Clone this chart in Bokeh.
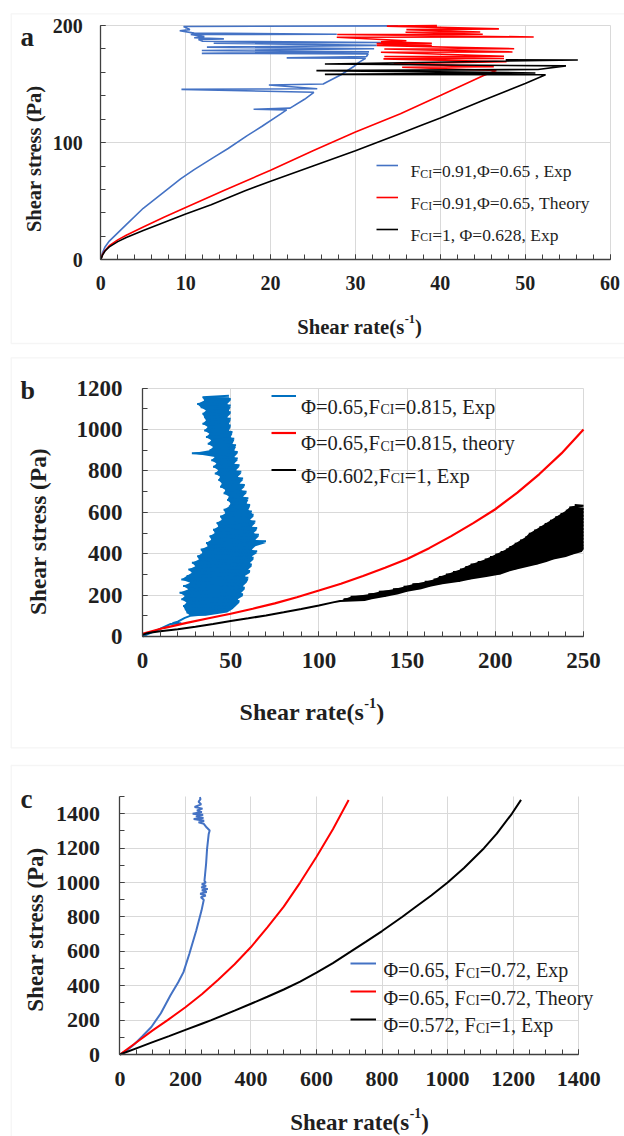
from bokeh.plotting import figure
from bokeh.models import (Range1d, SingleIntervalTicker, Label, Legend, LegendItem,
                          LinearAxis, Grid, BoxAnnotation)
from bokeh.core.properties import value
from bokeh.embed import file_html
from bokeh.resources import INLINE
import math

# ---------------------------------------------------------------- data
# Panel a  (shear rate s^-1, shear stress Pa)
a_blue_rate = [0, 0.2, 0.5, 1, 2, 3, 5, 7.8, 9.4, 11,
               13.3, 15, 17.25, 19, 21.2, 21.9, 18.0, 22.3, 24.0, 25.1,
               9.5, 25.5, 19.8, 26.2, 26.7, 28.3, 29.8, 30.5, 31.2, 21.9,
               31.3, 31.5, 11.9, 31.6, 11.9, 32.2, 12.5, 32.5, 13.3, 33.0,
               12.0, 11.5, 14.5, 11.0, 12.2, 10.6, 27.8, 11.0, 9.3, 10.5,
               9.75, 35.0]
a_blue_stress = [0, 6, 11, 16, 23, 30, 44, 60, 69.1, 77,
                 87.4, 95, 106, 114, 124.6, 128, 128.5, 129.5, 137, 143,
                 145.5, 146, 149.2, 150, 152, 158, 165, 169, 172, 172.4,
                 173.5, 175.8, 176.2, 177.5, 178.6, 180.2, 181.5, 183, 184.9, 185.5,
                 186.5, 188, 188.6, 189.5, 190.5, 192.3, 192.5, 193.5, 195.5, 196.5,
                 199.2, 199.7]
a_red_rate = [0, 0.2, 0.5, 1, 2, 3, 5, 7.5, 10, 14.5,
              20, 25, 30, 35.3, 40, 45.1, 46.6, 35.5, 46.3, 34.5,
              47.8, 33.3, 47.5, 33.4, 47.5, 33.0, 48.5, 33.4, 48.7, 32.5,
              39.0, 32.5, 39.0, 33.0, 36.0, 27.8, 51.0, 27.85, 45.0, 35.9,
              44.7, 36.0, 46.9, 33.7, 39.6]
a_red_stress = [0, 4.5, 8, 12, 17, 21, 28, 36.5, 44.7, 59.1,
                76.5, 93, 109, 124.6, 140.2, 157.3, 161.6, 164.4, 164.8, 167.3,
                169, 171.5, 171.8, 173.5, 173.8, 177.2, 177.4, 180, 180.2, 182.9,
                183, 184.5, 184.8, 186, 187, 190, 190.2, 192.3, 192.5, 194.2,
                194.4, 196.5, 197.1, 199.5, 199.9]
a_black_rate = [0, 0.2, 0.5, 1, 2, 3, 5, 7.5, 10, 13,
                17, 20, 25, 30, 35, 37.7, 40, 45, 50, 52.4,
                26.4, 51.2, 25.4, 51.5, 54.8, 26.4, 56.2, 47.7]
a_black_stress = [0, 4, 7.5, 11, 15.5, 19, 25, 32, 39, 47,
                  59, 67, 80, 93, 107, 114.6, 121, 136, 150.5, 157.9,
                  158.3, 159.5, 161.5, 162.5, 165.5, 167.2, 170.6, 170.8]

# Panel b  (from index 8 the blue points alternate left edge / right edge)
b_blue_stress = [0, 12, 30, 61, 64, 64, 72, 90,
                 100, 108, 116, 124, 132, 140, 148, 156, 164, 172,
                 180, 188, 196, 204, 212, 220, 228, 236, 244, 252,
                 260, 268, 276, 284, 292, 300, 308, 316, 324, 332,
                 340, 348, 356, 364, 372, 380, 388, 396, 404, 412,
                 420, 428, 436, 444, 452, 460, 468, 476, 484, 492,
                 500, 508, 516, 524, 532, 540, 548, 556, 564, 572,
                 580, 588, 596, 604, 612, 620, 628, 636, 644, 652,
                 660, 668, 676, 684, 692, 700, 708, 716, 724, 732,
                 740, 748, 756, 764, 772, 780, 788, 796, 804, 812,
                 820, 828, 836, 844, 852, 860, 868, 876, 886,
                 892, 900, 908, 916, 924, 932, 940, 948, 956, 964,
                 972, 980, 988, 996, 1004, 1012, 1020, 1028, 1036, 1044,
                 1052, 1060, 1068, 1076, 1084, 1092, 1100, 1108, 1116, 1124,
                 1132, 1140, 1148, 1156, 1164]
b_blue_rate = [0, 3, 8, 16, 22, 17, 20, 24,
               27, 36, 25, 48, 24, 51, 23, 53, 25, 55,
               22, 54, 24, 57, 21, 56, 26, 58, 23, 57,
               27, 59, 22, 60, 25, 58, 28, 61, 26, 60,
               30, 62, 28, 61, 32, 63, 31, 62, 34, 65,
               33, 62, 37, 64, 36, 70, 39, 64, 38, 66,
               41, 63, 40, 65, 43, 62, 42, 64, 45, 61,
               44, 63, 47, 62, 46, 60, 49, 61, 50, 59,
               48, 60, 49, 57, 46, 59, 47, 56, 44, 58,
               45, 55, 43, 57, 44, 54, 41, 56, 43, 53,
               40, 55, 42, 52, 39, 54, 41, 52, 28,
               54, 38, 52, 40, 53, 37, 51, 39, 52, 36,
               50, 38, 51, 35, 49, 37, 50, 34, 49, 36,
               50, 35, 48, 34, 50, 36, 49, 33, 50, 31,
               48, 35, 50, 34, 49]
b_red_rate = [0, 12.5, 25, 37.5, 50, 62.5, 75, 87.5, 100, 112.5, 125,
              137.5, 150, 162.5, 175, 187.5, 200, 212.5, 225, 237.5, 250]
b_red_stress = [13, 42, 66, 88, 110, 134, 160, 190, 222, 255, 292,
                332, 375, 427, 485, 548, 615, 695, 785, 885, 1000]
# from index 14 the black points alternate left edge / right edge
b_black_stress = [8, 14, 19, 25, 35, 47, 60, 75, 88, 102, 117, 133, 150, 165,
                  172, 176, 180, 186, 192, 198, 204, 210, 216, 222,
                  228, 234, 240, 246, 252, 258, 264, 270, 276, 282,
                  288, 294, 300, 306, 312, 318, 324, 330, 336, 342,
                  348, 354, 360, 366, 372, 378, 384, 390, 396, 402,
                  408, 414, 420, 426, 432, 440, 448, 456, 464, 472,
                  480, 488, 496, 504, 512, 520, 528, 536, 544, 552,
                  560, 568, 576, 584, 592, 600, 608, 616, 624, 632, 636]
b_black_rate = [0, 2, 5, 10, 20, 30, 40, 50, 60, 70, 80, 90, 100, 108,
                112, 126, 114, 130, 118, 138, 128, 145, 134, 150,
                142, 158, 148, 163, 153, 170, 160, 180, 165, 186,
                168, 195, 172, 203, 176, 207, 180, 212, 183, 218,
                186, 224, 190, 229, 194, 233, 197, 240, 200, 244,
                203, 249, 206, 250, 208, 250, 211, 250, 214, 250,
                217, 250, 219, 250, 222, 250, 225, 250, 228, 250,
                231, 250, 234, 250, 237, 250, 240, 250, 242, 250, 245]

# Panel c
c_blue_stress = [0, 25, 60, 105, 160, 240, 343, 420, 479, 586,
                 721, 837, 900, 915, 925, 935, 945, 955, 962, 972,
                 980, 990, 1000, 1010, 1050, 1109, 1196, 1283, 1303, 1320,
                 1342, 1350, 1360, 1370, 1375, 1385, 1395, 1400, 1410, 1420,
                 1430, 1440, 1455, 1470, 1485, 1497]
c_blue_rate = [0, 22, 44, 68, 96, 125, 154, 178, 194, 212,
               233, 249, 256, 247, 262, 245, 265, 250, 268, 248,
               263, 250, 262, 258, 260, 263, 266, 271, 274, 265,
               256, 240, 257, 225, 255, 232, 254, 222, 250, 235,
               252, 228, 248, 240, 246, 244]
c_red_rate = [0, 50, 100, 145.6, 200, 250, 300, 350, 400, 450, 500, 550,
              600, 650, 698]
c_red_stress = [0, 70, 140, 200, 275, 350, 435, 525, 625, 740, 860, 1000,
                1150, 1310, 1480]
c_black_rate = [0, 50, 100, 150, 200, 250, 279, 350, 400, 450, 500, 550, 600,
                650, 704, 750, 800, 861, 900, 950, 1000, 1050, 1111, 1150,
                1196, 1224]
c_black_stress = [0, 36, 72, 107, 143, 179, 200, 255, 295, 336, 378, 424, 476,
                  532, 598, 655, 718, 800, 855, 925, 1000, 1085, 1200, 1285,
                  1400, 1481]

a_legend = [[("F", 0), ("CI", 1), ("=0.91,\u03a6=0.65 , Exp", 0)],
            [("F", 0), ("CI", 1), ("=0.91,\u03a6=0.65, Theory", 0)],
            [("F", 0), ("CI", 1), ("=1, \u03a6=0.628, Exp", 0)]]
b_legend = [[("\u03a6=0.65,F", 0), ("CI", 1), ("=0.815, Exp", 0)],
            [("\u03a6=0.65,F", 0), ("CI", 1), ("=0.815, theory", 0)],
            [("\u03a6=0.602,F", 0), ("CI", 1), ("=1, Exp", 0)]]
c_legend = [[("\u03a6=0.65, F", 0), ("CI", 1), ("=0.72, Exp", 0)],
            [("\u03a6=0.65, F", 0), ("CI", 1), ("=0.72, Theory", 0)],
            [("\u03a6=0.572, F", 0), ("CI", 1), ("=1, Exp", 0)]]
x_title = [("Shear rate(s", 0), ("-1", 2), (")", 0)]
y_title = "Shear stress (Pa)"

# ---------------------------------------------------------------- style
SERIF = "Liberation Serif"
BLUE_AC = "#4472C4"
BLUE_B = "#0070C0"
RED = "#FF0000"
BLACK = "#000000"
GRID = "#d9d9d9"
AXIS = "#404040"
TXT = "#1f1f1f"
BOX = "#dedede"

REG_W = {"F": 0.556, "C": 0.667, "I": 0.333, "=": 0.564, ".": 0.25, ",": 0.25,
         " ": 0.25, "\u03a6": 0.76, "E": 0.611, "x": 0.5, "p": 0.5, "T": 0.611,
         "h": 0.5, "e": 0.444, "o": 0.5, "r": 0.333, "y": 0.5, "t": 0.278}
BOLD_W = {"S": 0.556, "h": 0.556, "e": 0.444, "a": 0.5, "r": 0.444, " ": 0.25,
          "t": 0.333, "(": 0.333, "s": 0.389, ")": 0.333, "-": 0.333, "1": 0.5}

W, H = 624, 1136

p = figure(width=W, height=H, x_range=Range1d(0, W), y_range=Range1d(H, 0),
           x_axis_location=None, y_axis_location=None, output_backend="svg",
           toolbar_location=None, min_border=0, title=None, outline_line_color=None,
           background_fill_color="white", border_fill_color="white")
p.center = []
HAS_CROSS = "cross_bounds" in Grid.properties()


def tw(s, fs, table):
    return sum(table.get(c, 0.5) for c in s) * fs


def label(px, py, text, fs, bold=False, align="left", baseline="alphabetic", angle=0.0):
    p.add_layout(Label(x=px, y=py, text=text, text_font=SERIF,
                       text_font_size=f"{fs:.2f}px",
                       text_font_style="bold" if bold else "normal",
                       text_color=TXT, text_align=align, text_baseline=baseline,
                       angle=angle))


def rich(px, base, parts, fs, bold=False):
    table = BOLD_W if bold else REG_W
    x = px
    for text, kind in parts:
        if kind == 0:
            size, b = fs, base
        elif kind == 1:
            size, b = fs * 0.68, base + 0.16 * fs
        else:
            size, b = fs * 0.6, base - 0.38 * fs
        label(x, b, text, size, bold=bold)
        x += tw(text, size, table)


def titles(xc, xbase, xfs, yc_x, yc_y, yfs):
    total = sum(tw(t, xfs * (0.6 if k == 2 else 1.0), BOLD_W) for t, k in x_title)
    rich(xc - total / 2, xbase, x_title, xfs, bold=True)
    label(yc_x, yc_y, y_title, yfs, bold=True, align="center",
          baseline="middle", angle=math.pi / 2)


def legend(renderers, sw_left, sw_w, row_c, pitch, text_left, text_rows, fs, parts):
    top = row_c - pitch / 2
    bottom = top + pitch * len(renderers)
    leg = Legend(items=[LegendItem(label=value(" "), renderers=[r]) for r in renderers],
                 location=(int(round(sw_left)), int(round(H - bottom))),
                 glyph_width=sw_w, glyph_height=pitch, label_height=pitch,
                 label_width=1, label_standoff=0, spacing=0, padding=0, margin=0,
                 border_line_color=None, background_fill_alpha=0,
                 label_text_font_size="1px")
    p.add_layout(leg)
    for rc, pr in zip(text_rows, parts):
        rich(text_left, rc + 0.33 * fs, pr, fs)


def panel(name, xr, yr, ytop, Lp, Rp, Bp, Tp, xint, xminor, yint, yminor,
          tick_fs, xstand, ystand):
    x0, x1 = xr
    y0, y1 = yr
    kx = (x1 - x0) / (Rp - Lp)
    ky = (y1 - y0) / (Bp - Tp)
    nx, ny = name + "x", name + "y"
    p.extra_x_ranges[nx] = Range1d(x0 - Lp * kx, x1 + (W - Rp) * kx)
    p.extra_y_ranges[ny] = Range1d(y0 - (H - Bp) * ky, y1 + Tp * ky)
    xt = SingleIntervalTicker(interval=xint, num_minor_ticks=xminor)
    yt = SingleIntervalTicker(interval=yint, num_minor_ticks=yminor)
    for tk, side, loc, bnd, st in ((xt, "below", y0, (x0, x1), xstand),
                                   (yt, "left", x0, (y0, ytop), ystand)):
        ax = LinearAxis(x_range_name=nx, y_range_name=ny, fixed_location=loc,
                        bounds=bnd, ticker=tk)
        ax.axis_line_color = AXIS
        ax.axis_line_width = 1.3
        ax.major_tick_line_color = AXIS
        ax.minor_tick_line_color = AXIS
        ax.major_tick_in = 5
        ax.major_tick_out = 0
        ax.minor_tick_in = 5
        ax.minor_tick_out = 0
        ax.major_label_standoff = st
        ax.major_label_text_font = SERIF
        ax.major_label_text_font_style = "bold"
        ax.major_label_text_font_size = f"{tick_fs}px"
        ax.major_label_text_color = TXT
        p.add_layout(ax, side)
    for dim, tk, bnd, cb in ((0, xt, (x0, x1), (y0, ytop)), (1, yt, (y0, ytop), (x0, x1))):
        g = Grid(dimension=dim, ticker=tk, x_range_name=nx, y_range_name=ny,
                 bounds=bnd, grid_line_color=GRID, grid_line_width=1)
        if HAS_CROSS:
            g.cross_bounds = cb
            p.add_layout(g)
    return nx, ny


# panel borders
for top, bottom in ((13.3, 343.0), (357.3, 747.3), (765.0, 1145.0)):
    p.add_layout(BoxAnnotation(left=10.7, right=632, top=top, bottom=bottom,
                               fill_alpha=0, line_color=BOX, line_width=1.3))

# ---------------------------------------------------------------- panel a
nx, ny = panel("a", (0, 60), (0, 200), 200, 100.3, 609.6, 259.3, 25.0,
               10, 5, 100, 5, 20, 16, 18)
if not HAS_CROSS:
    a_xt = [10, 20, 30, 40, 50, 60]
    a_yt = [100, 200]
    p.segment(a_xt, [0] * 6, a_xt, [200] * 6, x_range_name=nx, y_range_name=ny, color=GRID)
    p.segment([0] * 2, a_yt, [60] * 2, a_yt, x_range_name=nx, y_range_name=ny, color=GRID)
ra1 = p.line(a_blue_rate, a_blue_stress, x_range_name=nx, y_range_name=ny,
             line_color=BLUE_AC, line_width=1.6)
ra2 = p.line(a_red_rate, a_red_stress, x_range_name=nx, y_range_name=ny,
             line_color=RED, line_width=1.6)
ra3 = p.line(a_black_rate, a_black_stress, x_range_name=nx, y_range_name=ny,
             line_color=BLACK, line_width=1.6)
legend([ra1, ra2, ra3], 376, 22, 165, 32, 410, [165, 196.7, 228.3], 17.5, a_legend)
titles(359, 326, 20.7, 33.8, 158.3, 20.5)
label(20, 36, "a", 27, bold=True)

# ---------------------------------------------------------------- panel b
nx, ny = panel("b", (0, 250), (0, 1200), 1200, 142.0, 583.0, 636.0, 387.7,
               50, 5, 200, 2, 23, 16, 20)
if not HAS_CROSS:
    b_xt = [50, 100, 150, 200, 250]
    b_yt = [200, 400, 600, 800, 1000, 1200]
    p.segment(b_xt, [0] * 5, b_xt, [1200] * 5, x_range_name=nx, y_range_name=ny, color=GRID)
    p.segment([0] * 6, b_yt, [250] * 6, b_yt, x_range_name=nx, y_range_name=ny, color=GRID)
nb = len(b_blue_stress)
p.harea(y=b_blue_stress[8:nb:2], x1=b_blue_rate[8:nb:2], x2=b_blue_rate[9:nb:2],
        x_range_name=nx, y_range_name=ny, fill_color=BLUE_B)
rb1 = p.line(b_blue_rate, b_blue_stress, x_range_name=nx, y_range_name=ny,
             line_color=BLUE_B, line_width=2.0)
rb2 = p.line(b_red_rate, b_red_stress, x_range_name=nx, y_range_name=ny,
             line_color=RED, line_width=2.2)
nk = len(b_black_stress) - 1
p.harea(y=b_black_stress[14:nk:2], x1=b_black_rate[14:nk:2], x2=b_black_rate[15:nk + 1:2],
        x_range_name=nx, y_range_name=ny, fill_color=BLACK)
rb3 = p.line(b_black_rate, b_black_stress, x_range_name=nx, y_range_name=ny,
             line_color=BLACK, line_width=2.0)
legend([rb1, rb2, rb3], 270.6, 25, 396, 37, 300.4, [399.3, 436, 468.3], 20.5, b_legend)
titles(311.4, 711.5, 24, 37.8, 531, 23.4)
label(20, 390, "b", 26, bold=True)

# ---------------------------------------------------------------- panel c
nx, ny = panel("c", (0, 1400), (0, 1400), 1500, 119.4, 578.2, 1054.0, 813.3,
               200, 4, 200, 2, 22, 17, 20)
if not HAS_CROSS:
    c_xt = [200, 400, 600, 800, 1000, 1200, 1400]
    c_yt = [200, 400, 600, 800, 1000, 1200, 1400]
    p.segment(c_xt, [0] * 7, c_xt, [1500] * 7, x_range_name=nx, y_range_name=ny, color=GRID)
    p.segment([0] * 7, c_yt, [1400] * 7, c_yt, x_range_name=nx, y_range_name=ny, color=GRID)
rc1 = p.line(c_blue_rate, c_blue_stress, x_range_name=nx, y_range_name=ny,
             line_color=BLUE_AC, line_width=2)
rc2 = p.line(c_red_rate, c_red_stress, x_range_name=nx, y_range_name=ny,
             line_color=RED, line_width=2)
rc3 = p.line(c_black_rate, c_black_stress, x_range_name=nx, y_range_name=ny,
             line_color=BLACK, line_width=2)
legend([rc1, rc2, rc3], 350, 26, 963, 28, 383, [963.3, 990.5, 1018.3], 20, c_legend)
titles(359, 1121.5, 23, 34.8, 929, 23)
label(20, 798, "c", 27, bold=True)

open("out.html", "w").write(file_html(p, INLINE))
